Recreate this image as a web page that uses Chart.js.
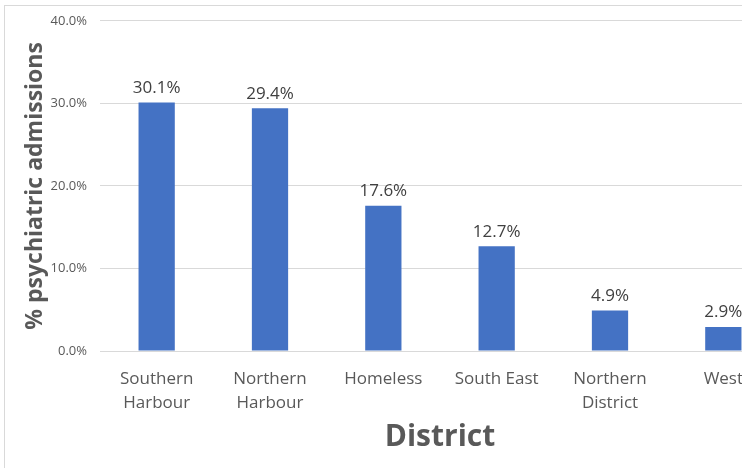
<!DOCTYPE html>
<html>
<head>
<meta charset="utf-8">
<script src="https://cdn.jsdelivr.net/npm/chart.js@4/dist/chart.umd.min.js"></script>
<style>
  html, body { margin: 0; padding: 0; background: #fff; overflow: hidden; width: 742px; height: 468px; }
  .frame { position: absolute; left: 4px; top: 5px; width: 900px; height: 600px; border: 1px solid #d9d9d9; }
  #chart { position: absolute; left: 0; top: 0; }
</style>
</head>
<body>
<div class="frame"></div>
<canvas id="chart" width="780" height="468"></canvas>
<script>
// Data
const districts = [
  ["Southern", "Harbour"],
  ["Northern", "Harbour"],
  "Homeless",
  "South East",
  ["Northern", "District"],
  "West",
]
const admissionsPct = [30.1, 29.4, 17.6, 12.7, 4.9, 2.9]
const yTicks = [0, 10, 20, 30, 40]

const textGrey = "#595959"
const fontFamily = "'Open Sans', 'Noto Sans', sans-serif"

// Draws the value labels above each bar
const valueLabels = {
  id: "valueLabels",
  afterDatasetsDraw(chart) {
    const ctx = chart.ctx
    const meta = chart.getDatasetMeta(0)
    ctx.save()
    ctx.font = "17px " + fontFamily
    ctx.fillStyle = "#404040"
    ctx.textAlign = "center"
    ctx.textBaseline = "bottom"
    meta.data.forEach((bar, i) => {
      ctx.fillText(admissionsPct[i].toFixed(1) + "%", bar.x, bar.y - 6)
    })
    ctx.restore()
  },
}

new Chart(document.getElementById("chart").getContext("2d"), {
  type: "bar",
  data: {
    labels: districts,
    datasets: [
      {
        data: admissionsPct,
        backgroundColor: "#4472C4",
        borderWidth: 0,
        categoryPercentage: 1,
        barPercentage: 0.32,
      },
    ],
  },
  options: {
    responsive: false,
    animation: false,
    layout: { padding: { top: 18, right: 0, bottom: 0, left: 0 } },
    plugins: {
      legend: { display: false },
      tooltip: { enabled: false },
    },
    scales: {
      x: {
        grid: { display: false },
        border: { display: false },
        ticks: {
          color: textGrey,
          padding: 8,
          maxRotation: 0,
          autoSkip: false,
          font: { family: fontFamily, size: 17, lineHeight: 1.4 },
        },
        title: {
          display: true,
          text: "District",
          color: textGrey,
          font: { family: fontFamily, size: 30, weight: "bold" },
          padding: { top: 0, bottom: 13 },
        },
        afterFit: (scale) => { scale.height = 117 },
      },
      y: {
        min: 0,
        max: 40,
        afterBuildTicks: (scale) => { scale.ticks = yTicks.map((v) => ({ value: v })) },
        grid: { color: "#d9d9d9", drawTicks: false },
        border: { display: false },
        ticks: {
          color: textGrey,
          padding: 13,
          font: { family: fontFamily, size: 13 },
          callback: (value) => value.toFixed(1) + "%",
        },
        title: {
          display: true,
          text: "% psychiatric admissions",
          color: textGrey,
          font: { family: fontFamily, size: 23, weight: "bold" },
          padding: { top: 22, bottom: 0 },
        },
        afterFit: (scale) => { scale.width = 100 },
      },
    },
  },
  plugins: [valueLabels],
})
</script>
</body>
</html>
